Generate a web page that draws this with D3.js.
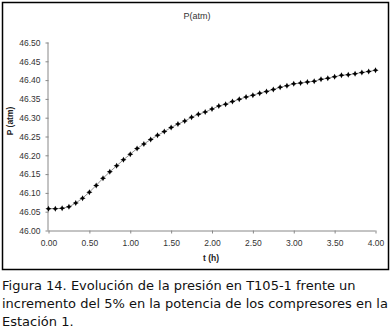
<!DOCTYPE html>
<html>
<head>
<meta charset="utf-8">
<script src="https://cdn.jsdelivr.net/npm/d3@7"></script>
<style>
  body { margin: 0; background: #fff; }
  svg { display: block; }
</style>
</head>
<body>
<div id="chart"></div>
<script>
// time in minutes (every 5 min over 4 h)
const minutes = [0, 5, 10, 15, 20, 25, 30, 35, 40, 45, 50, 55, 60, 65, 70, 75, 80, 85, 90, 95,
    100, 105, 110, 115, 120, 125, 130, 135, 140, 145, 150, 155, 160, 165, 170, 175, 180, 185, 190,
    195, 200, 205, 210, 215, 220, 225, 230, 235, 240];
const pressure = [46.058, 46.058, 46.059, 46.063, 46.073, 46.086, 46.102, 46.120, 46.139, 46.156,
    46.172, 46.188, 46.203, 46.218, 46.230, 46.242, 46.253, 46.263, 46.274, 46.283, 46.291, 46.301,
    46.309, 46.315, 46.323, 46.331, 46.336, 46.343, 46.349, 46.355, 46.360, 46.365, 46.370, 46.375,
    46.381, 46.385, 46.390, 46.392, 46.395, 46.397, 46.402, 46.405, 46.409, 46.413, 46.414, 46.417,
    46.420, 46.423, 46.426];
const xTicks = [0, 0.5, 1, 1.5, 2, 2.5, 3, 3.5, 4];
const yTicks = [46.00, 46.05, 46.10, 46.15, 46.20, 46.25, 46.30, 46.35, 46.40, 46.45, 46.50];
const captionLines = [
    "Figura 14. Evolución de la presión en T105-1 frente un",
    "incremento del 5% en la potencia de los compresores en la",
    "Estación 1."
];

const data = minutes.map((m, i) => ({t: m / 60, p: pressure[i]}));

const W = 390, H = 329;
const svg = d3.select("#chart").append("svg")
    .attr("width", W)
    .attr("height", H);

svg.append("rect")
    .attr("width", W).attr("height", H)
    .attr("fill", "#fff");

// chart frame
svg.append("rect")
    .attr("x", 2.5).attr("y", 2.5)
    .attr("width", 386).attr("height", 267)
    .attr("fill", "none")
    .attr("stroke", "#000")
    .attr("stroke-width", 1.5);

const x = d3.scaleLinear().domain([0, 4]).range([48.5, 375.5]);
const y = d3.scaleLinear().domain([46.0, 46.5]).range([230.5, 42.5]);

const font = "'Liberation Sans', Arial, sans-serif";

// axes
const xAxis = svg.append("g")
    .attr("transform", "translate(0," + y(46.0) + ")")
    .call(d3.axisBottom(x).tickValues(xTicks).tickSize(3).tickPadding(6)
        .tickFormat(d3.format(".2f")));
const yAxis = svg.append("g")
    .attr("transform", "translate(" + x(0) + ",0)")
    .call(d3.axisLeft(y).tickValues(yTicks).tickSize(3).tickPadding(5)
        .tickFormat(d3.format(".2f")));

[xAxis, yAxis].forEach(g => {
    g.select(".domain").attr("stroke", "#888").attr("stroke-width", 1);
    g.selectAll(".tick line").attr("stroke", "#888");
    g.selectAll(".tick text")
        .attr("fill", "#333")
        .attr("font-family", font)
        .attr("font-size", 8.5);
});
xAxis.select(".domain").attr("d", "M" + x(0) + ",0.5H" + x(4));
yAxis.select(".domain").attr("d", "M-0.5," + y(46.5) + "V" + y(46.0));

// line
svg.append("path")
    .datum(data)
    .attr("fill", "none")
    .attr("stroke", "#777")
    .attr("stroke-width", 0.8)
    .attr("d", d3.line().x(d => x(d.t)).y(d => y(d.p)));

// markers
svg.append("g").selectAll("path")
    .data(data)
    .join("path")
    .attr("transform", d => "translate(" + x(d.t) + "," + y(d.p) + ")")
    .attr("d", "M0,-3L1,-1L3,0L1,1L0,3L-1,1L-3,0L-1,-1Z")
    .attr("fill", "#000");

// title
svg.append("text")
    .attr("x", 197).attr("y", 19)
    .attr("text-anchor", "middle")
    .attr("font-family", font)
    .attr("font-size", 9)
    .attr("fill", "#333")
    .text("P(atm)");

// axis titles
svg.append("text")
    .attr("transform", "translate(13,121) rotate(-90)")
    .attr("text-anchor", "middle")
    .attr("font-family", font)
    .attr("font-size", 8.5)
    .attr("font-weight", "bold")
    .attr("fill", "#222")
    .text("P (atm)");

svg.append("text")
    .attr("x", 211).attr("y", 261)
    .attr("text-anchor", "middle")
    .attr("font-family", font)
    .attr("font-size", 8.5)
    .attr("font-weight", "bold")
    .attr("fill", "#222")
    .text("t (h)");

// caption
svg.append("g").selectAll("text")
    .data(captionLines)
    .join("text")
    .attr("x", 2)
    .attr("y", (d, i) => 290 + i * 17.8)
    .attr("font-family", "'DejaVu Sans', sans-serif")
    .attr("font-size", 13)
    .attr("fill", "#111")
    .text(d => d);
</script>
</body>
</html>
